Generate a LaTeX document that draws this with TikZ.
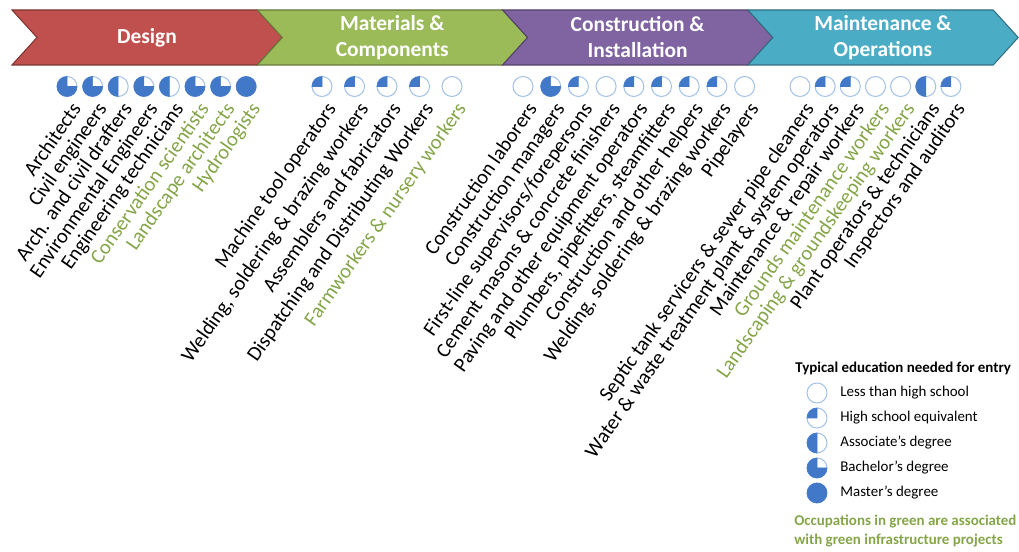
\documentclass[tikz,border=0pt]{standalone}
\usepackage{fontspec}
\setmainfont{Carlito}
\usetikzlibrary{positioning}

\definecolor{designred}{HTML}{C0504D}
\definecolor{materialgreen}{HTML}{9BBB59}
\definecolor{buildpurple}{HTML}{8064A2}
\definecolor{operteal}{HTML}{4BACC6}
\definecolor{edublue}{RGB}{66,120,200}
\definecolor{edupale}{RGB}{165,195,232}
\definecolor{jobgreen}{RGB}{132,165,72}

\tikzset{
  stage/.style={draw=#1!65!black, fill=#1, line width=0.6pt},
  stagetext/.style={text=white, align=center, inner sep=0pt,
    font=\bfseries\fontsize{12.2}{14.8}\selectfont},
  job/.style={rotate=55, anchor=north east, inner sep=0pt,
    font=\fontsize{11.7}{12}\selectfont},
  eduring/.style={draw=edupale, line width=0.6pt},
  edufill/.style={fill=edublue, draw=edublue, line width=0.3pt},
  legtext/.style={anchor=west, inner sep=0pt, font=\fontsize{8.5}{10}\selectfont},
}

% circle at #1 with #2 quarters filled
\newcommand{\edu}[2]{%
  \draw[eduring] (#1) circle[radius=0.2];
  \ifnum#2>0 \filldraw[edufill] (#1) -- ++(90:0.2)
    arc[start angle=90, delta angle=90*#2, radius=0.2] -- cycle;\fi}

\begin{document}
\begin{tikzpicture}
\useasboundingbox (0,0) rectangle (20.38,-11.04);

% stages
\foreach \col/\txt [count=\i from 0] in {designred/Design,
    materialgreen/{Materials \&\\Components},
    buildpurple/{Construction \&\\Installation},
    operteal/{Maintenance \&\\Operations}} {
  \draw[stage=\col] ({0.24+4.906*\i},-0.2) -- ++(4.906,0) -- ++(0.5,-0.55)
    -- ++(-0.5,-0.55) -- ++(-4.906,0) -- ++(0.5,0.55) -- cycle;
  \node[stagetext] (st\i) at ({2.94+4.906*\i},-0.75) {\txt};
}

% design
\foreach \q/\col/\txt [count=\i from 0] in {3/black/Architects,
    3/black/Civil engineers, 2/black/Arch. and civil drafters,
    3/black/Environmental Engineers, 2/black/Engineering technicians,
    3/jobgreen/Conservation scientists, 3/jobgreen/Landscape architects,
    4/jobgreen/Hydrologists} {
  \coordinate (dc\i) at ({1.34+0.512*\i},-1.73);
  \edu{dc\i}{\q}
  \node[job, text=\col] (dj\i) at ([xshift=0.06cm, yshift=-0.28cm]dc\i) {\txt};
}

% materials
\foreach \q/\col/\txt [count=\i from 0] in {1/black/Machine tool operators,
    1/black/{Welding, soldering \& brazing workers},
    1/black/Assemblers and fabricators,
    1/black/Dispatching and Distributing Workers,
    0/jobgreen/Farmworkers \& nursery workers} {
  \coordinate (mc\i) at ({6.44+0.65*\i},-1.73);
  \edu{mc\i}{\q}
  \node[job, text=\col] (mj\i) at ([xshift=0.06cm, yshift=-0.28cm]mc\i) {\txt};
}

% construction
\foreach \q/\col/\txt [count=\i from 0] in {0/black/Construction laborers,
    3/black/Construction managers,
    1/black/{First-line supervisors/forepersons},
    0/black/Cement masons \& concrete finishers,
    1/black/Paving and other equipment operators,
    1/black/{Plumbers, pipefitters, steamfitters},
    1/black/Construction and other helpers,
    1/black/{Welding, soldering \& brazing workers},
    0/black/Pipelayers} {
  \coordinate (cc\i) at ({10.46+0.554*\i},-1.73);
  \edu{cc\i}{\q}
  \node[job, text=\col] (cj\i) at ([xshift=0.06cm, yshift=-0.28cm]cc\i) {\txt};
}

% maintenance
\foreach \q/\col/\txt [count=\i from 0] in {0/black/Septic tank servicers \& sewer pipe cleaners,
    1/black/Water \& waste treatment plant \& system operators,
    1/black/Maintenance \& repair workers,
    0/jobgreen/Grounds maintenance workers,
    0/jobgreen/Landscaping \& groundskeeping workers,
    2/black/Plant operators \& technicians,
    1/black/Inspectors and auditors} {
  \coordinate (oc\i) at ({16.0+0.503*\i},-1.73);
  \edu{oc\i}{\q}
  \node[job, text=\col] (oj\i) at ([xshift=0.06cm, yshift=-0.28cm]oc\i) {\txt};
}

% legend
\node[anchor=west, inner sep=0pt, font=\bfseries\fontsize{8.5}{10}\selectfont]
  (legtitle) at (15.9,-7.36) {Typical education needed for entry};
\foreach \q/\txt [count=\i from 0] in {0/Less than high school,
    1/High school equivalent, 2/Associate’s degree,
    3/Bachelor’s degree, 4/Master’s degree} {
  \coordinate (lc\i) at (16.34,{-7.86-0.5*\i});
  \edu{lc\i}{\q}
  \node[legtext, right=0.46cm of lc\i] (lt\i) {\txt};
}
\node[anchor=north west, align=left, inner sep=0pt, text=jobgreen,
  font=\bfseries\fontsize{8.5}{10.8}\selectfont] (note) at (15.88,-10.3)
  {Occupations in green are associated\\with green infrastructure projects};
\end{tikzpicture}
\end{document}
